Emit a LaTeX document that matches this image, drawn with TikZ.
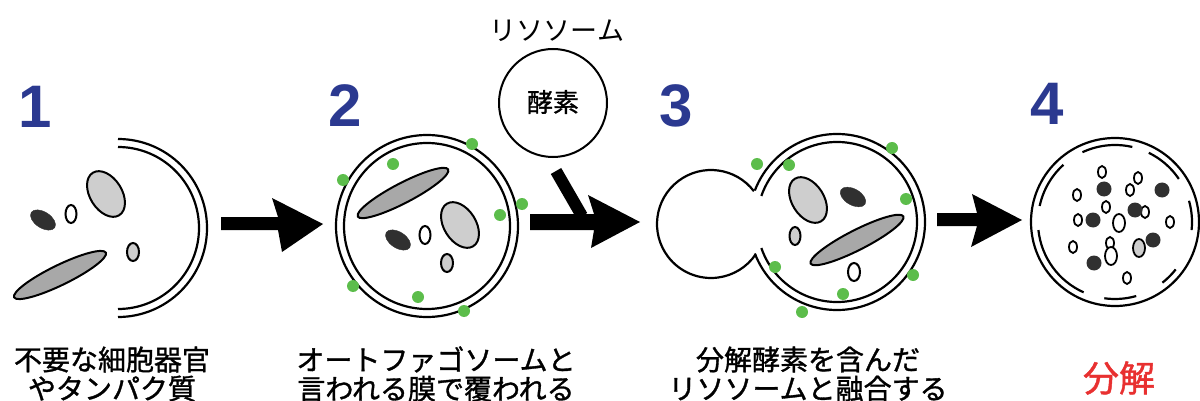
\documentclass[tikz,border=0pt]{standalone}
\usepackage{fontspec}
\newfontfamily\jpfont{Noto Sans CJK JP}
\newfontfamily\jpbold{Noto Sans CJK JP}[FakeBold=1.2]
\newfontfamily\numfont{Liberation Sans}
\definecolor{stepblue}{RGB}{43,57,144}
\definecolor{enzgreen}{RGB}{92,189,75}
\definecolor{labelred}{RGB}{232,48,48}
\definecolor{orglight}{RGB}{206,206,206}
\definecolor{orgmid}{RGB}{168,168,168}
\definecolor{orgdark}{RGB}{48,48,48}
% arc of a membrane: center, radius, start angle, end angle
\newcommand{\memarc}[4]{\draw[membrane] (#1) ++(#3:#2) arc[start angle=#3, end angle=#4, radius=#2];}
\newcommand{\enz}[1]{\fill[enzgreen] (#1) circle[radius=6];}
\begin{document}
\begin{tikzpicture}[x=1pt,y=1pt,
  membrane/.style={line width=2.2pt},
  organelle/.style={draw=black,line width=2pt},
  frag/.style={draw=black,line width=1.8pt,fill=white},
  bigarrow/.style={fill=black,draw=none},
  stepnum/.style={font=\numfont\bfseries\fontsize{60}{60}\selectfont,text=stepblue,inner sep=0pt},
  caption/.style={font=\jpbold\fontsize{28}{29}\selectfont,align=center,inner sep=0pt}]
\useasboundingbox (0,0) rectangle (1200,-401);

% ---------- step numbers ----------
\node[stepnum] (n1) at (35,-107) {1};
\node[stepnum] (n2) at (345,-106) {2};
\node[stepnum] (n3) at (676,-106) {3};
\node[stepnum] (n4) at (1047,-104) {4};

% ---------- 1: organelles and an open membrane ----------
\memarc{118,-228}{89}{90}{-90}
\memarc{118,-228}{81}{90}{-90}
\draw[organelle,fill=orglight,rotate around={-58:(106,-194)}] (106,-194) ellipse[x radius=25,y radius=16];
\draw[orgdark,fill=orgdark,rotate around={-33:(43,-220)}] (43,-220) ellipse[x radius=14,y radius=8];
\draw[organelle,fill=white] (71,-214) ellipse[x radius=5.5,y radius=9];
\draw[organelle,fill=orglight] (133,-252) ellipse[x radius=6,y radius=9];
\draw[organelle,fill=orgmid,rotate around={26:(60,-275)}] (60,-275) ellipse[x radius=51,y radius=10];

% ---------- 2: autophagosome ----------
\draw[membrane] (427,-226) circle[radius=91];
\draw[membrane] (427,-226) circle[radius=83];
\draw[organelle,fill=orgmid,rotate around={27.5:(403,-193)}] (403,-193) ellipse[x radius=51,y radius=10];
\draw[organelle,fill=orglight,rotate around={-58:(460,-225)}] (460,-225) ellipse[x radius=25,y radius=16];
\draw[orgdark,fill=orgdark,rotate around={-33:(398,-240)}] (398,-240) ellipse[x radius=14,y radius=8];
\draw[organelle,fill=white] (425,-235) ellipse[x radius=5.5,y radius=9];
\draw[organelle,fill=orglight] (447,-263) ellipse[x radius=6,y radius=9];
\enz{472,-144} \enz{393,-164} \enz{343,-180} \enz{522,-204}
\enz{500,-215} \enz{353,-286} \enz{418,-297} \enz{464,-311}

% ---------- lysosome ----------
\node[font=\jpfont\fontsize{27}{27}\selectfont,inner sep=0pt] (lysolabel) at (557,-31) {リソソーム};
\draw[line width=2pt] (553,-103) circle[radius=54];
\node[font=\jpbold\fontsize{26}{26}\selectfont,inner sep=0pt] (enzyme) at (553,-102) {酵素};

% ---------- 3: fusion ----------
\memarc{711,-224}{54}{37.4}{326}
\memarc{837,-222}{88}{-159}{159}
\memarc{837,-222}{80}{-161}{161}
\draw[organelle,fill=orglight,rotate around={-58:(808,-200)}] (808,-200) ellipse[x radius=25,y radius=16];
\draw[orgdark,fill=orgdark,rotate around={-30:(853,-197)}] (853,-197) ellipse[x radius=14,y radius=8];
\draw[organelle,fill=orglight] (795,-236) ellipse[x radius=5.5,y radius=9];
\draw[organelle,fill=white] (854,-272) ellipse[x radius=6,y radius=9];
\draw[organelle,fill=orgmid,rotate around={27:(857,-240)}] (857,-240) ellipse[x radius=52,y radius=10];
\enz{757,-164} \enz{789,-165} \enz{892,-148} \enz{906,-199}
\enz{775,-267} \enz{913,-275} \enz{843,-294} \enz{802,-312}

% ---------- 4: degraded contents ----------
\draw[membrane] (1115,-222) circle[radius=84];
\memarc{1115,-222}{77}{77}{115}
\memarc{1115,-222}{77}{34}{64}
\memarc{1115,-222}{77}{-6}{16}
\memarc{1115,-222}{77}{-52}{-38}
\memarc{1115,-222}{77}{-98}{-74}
\memarc{1115,-222}{77}{186}{246}
\memarc{1115,-222}{77}{132}{168}
\foreach \p/\a in {1102/172,1138/178,1130/190,1077/195,1106/207,1145/212,
  1078/220,1170/222,1073/247,1110/243,1127/278}
  \draw[frag] (\p,-\a) ellipse[x radius=4,y radius=6];
\draw[frag] (1119,-223) ellipse[x radius=6,y radius=9];
\draw[frag] (1111,-256) ellipse[x radius=6,y radius=9];
\foreach \p/\a in {1104/189,1162/190,1135/210,1093/220,1153/240,1094/263}
  \fill[orgdark] (\p,-\a) circle[radius=7.5];
\draw[frag,fill=orglight] (1139,-248) ellipse[x radius=6,y radius=9];

% ---------- arrows ----------
\fill[bigarrow] (221,-217) -- (278,-217) -- (272,-198) -- (323,-224) -- (282,-252) -- (278,-230) -- (221,-230) -- cycle;
\fill[bigarrow] (530,-214) -- (594,-214) -- (588,-195) -- (640,-222) -- (591,-248) -- (594,-230) -- (530,-230) -- cycle;
\draw[line width=12pt] (556,-171) -- (582,-216);
\fill[bigarrow] (937,-213) -- (977,-213) -- (972,-194) -- (1022,-220) -- (971,-247) -- (977,-226) -- (937,-226) -- cycle;

% ---------- captions ----------
\node[caption] (cap1) at (112,-374) {不要な細胞器官\\やタンパク質};
\node[caption] (cap2) at (436,-374) {オートファゴソームと\\言われる膜で覆われる};
\node[caption] (cap3) at (808,-374) {分解酵素を含んだ\\リソソームと融合する};
\node[font=\jpbold\fontsize{36}{36}\selectfont,text=labelred,inner sep=0pt] (cap4) at (1119,-378) {分解};
\end{tikzpicture}
\end{document}
